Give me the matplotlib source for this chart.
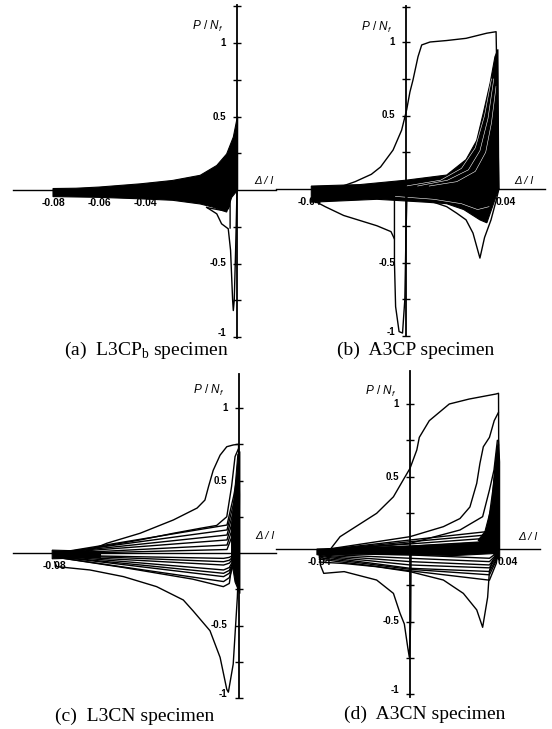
import matplotlib
matplotlib.use('Agg')
import matplotlib.pyplot as plt

W, H = 552, 729

plt.rcParams['mathtext.fontset'] = 'custom'
plt.rcParams['mathtext.it'] = 'Liberation Sans:italic'
plt.rcParams['mathtext.rm'] = 'Liberation Sans'

# ---------------- data (strain D/l, load P/Ny) ----------------
y_ticks = [-1, -0.75, -0.5, -0.25, 0.25, 0.5, 0.75, 1]
y_label_vals = [-1, -0.5, 0.5, 1]
y_label_text = ['-1', '-0.5', '0.5', '1']

# (a) L3CPb
a_band_x = [-0.080, -0.070, -0.060, -0.042, -0.028, -0.016, -0.0088, -0.0045, -0.0016, -0.0002, 0.0003,
            0.0003, -0.0023, -0.0045, -0.0104, -0.016, -0.028, -0.042, -0.060, -0.079, -0.080]
a_band_y = [0.01, 0.012, 0.02, 0.042, 0.065, 0.10, 0.167, 0.245, 0.36, 0.47, 0.50,
            0.0, -0.05, -0.15, -0.117, -0.095, -0.07, -0.06, -0.05, -0.045, -0.045]
a_loop1_x = [-0.0133, -0.0088, -0.0067, -0.0038, -0.0028, -0.0019, -0.0016, -0.0012, -0.0006, -0.0001, 0.0]
a_loop1_y = [-0.117, -0.162, -0.23, -0.264, -0.41, -0.75, -0.82, -0.75, -0.41, -0.07, 0.0]
a_loop2_x = [-0.013, -0.006, -0.0038, -0.003, -0.003]
a_loop2_y = [-0.12, -0.14, -0.128, -0.06, -0.26]
a_xtick_vals = [-0.08, -0.06, -0.04]
a_xtick_labels = ['-0.08', '-0.06', '-0.04']

# (b) A3CP
b_outer_x = [-0.040, -0.031, -0.022, -0.015, -0.011, -0.0056, -0.0019, 0.0003, 0.0017, 0.003, 0.0052,
             0.0068, 0.0104, 0.0176, 0.026, 0.035, 0.039, 0.0402]
b_outer_y = [-0.01, 0.0, 0.05, 0.10, 0.15, 0.265, 0.40, 0.54, 0.66, 0.74, 0.90,
             0.98, 1.0, 1.01, 1.025, 1.06, 1.07, 0.0]
b_band_x = [-0.041, -0.020, 0.0, 0.0176, 0.026, 0.0306, 0.0335, 0.0364, 0.0385, 0.0398, 0.0402,
            0.039, 0.035, 0.032, 0.025, 0.0176, 0.009, -0.0126, -0.041]
b_band_y = [0.02, 0.03, 0.06, 0.095, 0.20, 0.33, 0.52, 0.72, 0.90, 0.95, 0.0,
            -0.05, -0.23, -0.21, -0.14, -0.10, -0.09, -0.07, -0.09]
b_streaks_x = [[0.0, 0.015, 0.024, 0.030, 0.034, 0.037],
               [0.005, 0.018, 0.027, 0.032, 0.0355, 0.038],
               [0.010, 0.022, 0.030, 0.0345, 0.037, 0.039],
               [-0.005, 0.012, 0.024, 0.031, 0.036]]
b_streaks_y = [[0.02, 0.06, 0.14, 0.28, 0.50, 0.75],
               [0.02, 0.06, 0.13, 0.26, 0.48, 0.75],
               [0.02, 0.05, 0.12, 0.25, 0.45, 0.70],
               [-0.05, -0.07, -0.10, -0.14, -0.12]]
b_lowright_x = [0.012, 0.0176, 0.022, 0.026, 0.029, 0.032, 0.034, 0.0368, 0.039, 0.0402]
b_lowright_y = [-0.09, -0.12, -0.165, -0.21, -0.30, -0.47, -0.33, -0.21, -0.08, 0.0]
b_lowleft_x = [-0.041, -0.035, -0.027, -0.0126, -0.0065, -0.0050]
b_lowleft_y = [-0.07, -0.12, -0.18, -0.25, -0.29, -0.34]
b_spike_x = [-0.0050, -0.0050, -0.0045, -0.0030, -0.0015, -0.0005, 0.0, 0.0005]
b_spike_y = [-0.05, -0.50, -0.80, -0.97, -0.98, -0.75, -0.30, 0.0]
b_xtick_vals = [-0.042, 0.039]
b_xtick_labels = ['-0.04', '0.04']

# (c) L3CN
c_outer_x = [-0.080, -0.0675, -0.0573, -0.0428, -0.0283, -0.018, -0.0146, -0.013, -0.011, -0.008,
             -0.0051, -0.0023, 0.0, 0.0004, 0.0002, -0.0005, -0.0023, -0.0044, -0.0051, -0.008,
             -0.0124, -0.0197, -0.024, -0.0356, -0.05, -0.0646, -0.079, -0.080]
c_outer_y = [-0.01, 0.0, 0.067, 0.136, 0.228, 0.31, 0.365, 0.46, 0.57, 0.675,
             0.733, 0.745, 0.75, 0.40, 0.0, -0.305, -0.766, -0.96, -0.94, -0.72,
             -0.536, -0.40, -0.324, -0.232, -0.163, -0.117, -0.094, -0.06]
c_second_x = [-0.076, -0.0573, -0.0428, -0.0283, -0.0167, -0.0095, -0.0051, -0.003, -0.0015, 0.0]
c_second_y = [0.0, 0.05, 0.09, 0.136, 0.17, 0.19, 0.25, 0.46, 0.665, 0.72]
c_secondlow_x = [-0.079, -0.05, -0.02, -0.0066, -0.004, -0.003, 0.0]
c_secondlow_y = [-0.03, -0.10, -0.18, -0.232, -0.21, -0.10, 0.0]
c_fan_up_x = [-0.079, -0.005, -0.002, 0.0]
c_fan_up = [[-0.005, 0.024, 0.15, 0.25],
            [-0.005, 0.055, 0.20, 0.30],
            [0.0, 0.09, 0.25, 0.36],
            [0.0, 0.124, 0.30, 0.42],
            [0.0, 0.159, 0.35, 0.50],
            [0.0, 0.193, 0.40, 0.58]]
c_fan_low_x = [-0.079, -0.0065, -0.004, -0.0005]
c_fan_low = [[-0.015, -0.037, -0.03, 0.0],
             [-0.015, -0.06, -0.05, 0.0],
             [-0.02, -0.083, -0.07, 0.0],
             [-0.02, -0.117, -0.10, 0.0],
             [-0.025, -0.14, -0.12, 0.0],
             [-0.025, -0.163, -0.14, 0.0],
             [-0.03, -0.197, -0.17, 0.0]]
c_dense_x = [-0.003, -0.0015, -0.0003, 0.0006, 0.0006, -0.0015, -0.003]
c_dense_y = [0.20, 0.45, 0.68, 0.70, -0.28, -0.20, -0.05]
c_knot_x = [-0.081, -0.070, -0.060, -0.060, -0.070, -0.081]
c_knot_y = [0.02, 0.015, 0.01, -0.03, -0.035, -0.04]
c_xtick_vals = [-0.08]
c_xtick_labels = ['-0.08']

# (d) A3CN
d_outer_x = [-0.040, -0.035, -0.0308, -0.025, -0.0147, -0.0073, -0.003, 0.0, 0.003, 0.0041, 0.0085,
             0.0173, 0.026, 0.0379, 0.039, 0.0392]
d_outer_y = [-0.02, 0.0, 0.085, 0.143, 0.246, 0.36, 0.476, 0.556, 0.683, 0.77, 0.885,
             1.0, 1.034, 1.069, 1.074, 0.0]
d_second_x = [-0.040, -0.0147, 0.0, 0.0147, 0.022, 0.0264, 0.0294, 0.0308, 0.0323, 0.035, 0.0371, 0.039]
d_second_y = [-0.01, 0.05, 0.085, 0.154, 0.21, 0.29, 0.453, 0.59, 0.705, 0.77, 0.885, 0.943]
d_third_x = [-0.040, 0.0, 0.022, 0.032, 0.035, 0.037, 0.0385]
d_third_y = [-0.01, 0.039, 0.131, 0.223, 0.407, 0.545, 0.75]
d_fan_up_x = [-0.040, 0.0, 0.034, 0.0375, 0.039]
d_fan_up = [[-0.01, 0.006, 0.028, 0.20, 0.35],
            [-0.01, 0.02, 0.051, 0.28, 0.45],
            [-0.01, 0.035, 0.074, 0.36, 0.55],
            [-0.01, 0.05, 0.097, 0.44, 0.65],
            [-0.01, 0.062, 0.12, 0.52, 0.72]]
d_fan_low_x = [-0.040, 0.0, 0.035, 0.038, 0.039]
d_fan_low = [[-0.03, -0.041, -0.064, -0.03, 0.0],
             [-0.035, -0.064, -0.087, -0.04, 0.0],
             [-0.04, -0.087, -0.11, -0.05, 0.0],
             [-0.045, -0.11, -0.13, -0.06, 0.0],
             [-0.05, -0.133, -0.155, -0.07, 0.0],
             [-0.06, -0.14, -0.178, -0.08, 0.0],
             [-0.07, -0.15, -0.215, -0.10, 0.0]]
d_lowleft_x = [-0.040, -0.0395, -0.038, -0.029, -0.0147, -0.0073, -0.0044, -0.0025, -0.001, -0.0003, 0.0003, 0.0005]
d_lowleft_y = [-0.02, -0.11, -0.168, -0.156, -0.214, -0.306, -0.443, -0.517, -0.678, -0.747, -0.50, 0.0]
d_lowright_x = [-0.040, -0.029, -0.0147, 0.0, 0.0147, 0.0235, 0.0294, 0.032, 0.0342, 0.035, 0.0364, 0.0386]
d_lowright_y = [-0.09, -0.10, -0.122, -0.156, -0.214, -0.306, -0.42, -0.54, -0.333, -0.15, -0.08, -0.035]
d_dense_x = [0.030, 0.033, 0.036, 0.037, 0.038, 0.0390, 0.0395, 0.0395, 0.036]
d_dense_y = [0.06, 0.12, 0.30, 0.50, 0.65, 0.75, 0.60, -0.08, -0.02]
d_band_x = [-0.041, -0.02, 0.0, 0.02, 0.035, 0.039, 0.039, 0.02, 0.0, -0.02, -0.041]
d_band_y = [0.0, 0.01, 0.02, 0.035, 0.05, 0.02, -0.03, -0.045, -0.04, -0.035, -0.04]
d_xtick_vals = [-0.040, 0.0388]
d_xtick_labels = ['-0.04', '0.04']

captions = [r'(a)  L3CP$_\mathregular{b}$ specimen', '(b)  A3CP specimen',
            '(c)  L3CN specimen', '(d)  A3CN specimen']

# ---------------- layout in pixels of the scan ----------------
# origin x, origin y, px per unit x, px per unit y, x-axis left/right, y-axis top/bottom
layout = [
    (237, 190, 2300, 147, 13, 276, 5, 338),
    (406, 189, 2310, 147, 276, 545, 6, 336),
    (238.5, 553, 2300, 145, 13, 276, 374, 698),
    (410, 549, 2270, 145, 276, 540, 371, 697),
]
caption_pos = [(146, 355), (416, 355), (135, 721), (425, 719)]
label_pny = [1.11, 1.10, 1.124, 1.09]
label_dl = [(0.0115, 0.03), (0.051, 0.02), (0.0115, 0.08), (0.052, 0.05)]
top_cap = [True, True, False, False]

fig = plt.figure(figsize=(W / 100, H / 100), dpi=100)
fig.patch.set_facecolor('white')

LW = 1.0
axes = []
for i, (x0, y0, sx, sy, xl, xr, yt, yb) in enumerate(layout):
    ax = fig.add_axes([xl / W, 1 - yb / H, (xr - xl) / W, (yb - yt) / H])
    ax.set_xlim((xl - x0) / sx, (xr - x0) / sx)
    ytop = (y0 - yt) / sy
    ax.set_ylim(min((y0 - yb) / sy, -1.0), ytop)
    ax.patch.set_visible(False)
    ax.spines['top'].set_visible(False)
    ax.spines['right'].set_visible(False)
    ax.spines['left'].set_position(('data', 0))
    ax.spines['bottom'].set_position(('data', 0))
    ax.spines['left'].set_linewidth(1.3)
    ax.spines['bottom'].set_linewidth(1.0)
    ticks = list(y_ticks)
    if top_cap[i]:
        ticks.append(ytop - 0.005)
    ax.set_yticks(ticks)
    ax.set_yticklabels([''] * len(ticks))
    ax.tick_params(axis='y', direction='inout', length=6, width=1.0)
    ax.set_xticks([])
    for v, s in zip(y_label_vals, y_label_text):
        dy = 3 if v == -1 else 0
        ax.annotate(s, xy=(0, v), xytext=(-8, dy), textcoords='offset points', ha='right', va='center',
                    fontsize=7, fontweight='bold', family='Liberation Sans')
    ax.annotate(r'$P\ /\ N_f$', xy=(0, label_pny[i]), xytext=(-10, 0), textcoords='offset points',
                ha='right', va='center', fontsize=8.5)
    ax.text(label_dl[i][0], label_dl[i][1], 'Δ / l', fontsize=8, style='italic',
            family='Liberation Sans', ha='center', va='bottom', clip_on=False)
    fig.text(caption_pos[i][0] / W, 1 - caption_pos[i][1] / H, captions[i], family='Liberation Serif',
             fontsize=14, ha='center', va='baseline')
    axes.append(ax)


def xlabels(ax, vals, labs):
    for v, s in zip(vals, labs):
        ha = 'left' if v > 0 else 'center'
        ax.annotate(s, xy=(v, 0), xytext=(0, -6), textcoords='offset points', ha=ha, va='top',
                    fontsize=7.5, fontweight='bold', family='Liberation Sans')


def line(ax, x, y, color='black', lw=LW):
    ax.plot(x, y, color=color, lw=lw, solid_joinstyle='round', solid_capstyle='round')


# (a)
ax = axes[0]
ax.fill(a_band_x, a_band_y, color='black', lw=0.8)
line(ax, a_loop1_x, a_loop1_y)
line(ax, a_loop2_x, a_loop2_y)
xlabels(ax, a_xtick_vals, a_xtick_labels)

# (b)
ax = axes[1]
ax.fill(b_band_x, b_band_y, color='black', lw=0.8)
for sx_, sy_ in zip(b_streaks_x, b_streaks_y):
    line(ax, sx_, sy_, color='white', lw=0.4)
line(ax, b_outer_x, b_outer_y)
line(ax, b_lowright_x, b_lowright_y)
line(ax, b_lowleft_x, b_lowleft_y)
line(ax, b_spike_x, b_spike_y)
xlabels(ax, b_xtick_vals, b_xtick_labels)

# (c)
ax = axes[2]
ax.fill(c_knot_x, c_knot_y, color='black', lw=0.8)
ax.fill(c_dense_x, c_dense_y, color='black', lw=0.8)
line(ax, c_outer_x, c_outer_y)
line(ax, c_second_x, c_second_y)
line(ax, c_secondlow_x, c_secondlow_y)
for yy in c_fan_up:
    line(ax, c_fan_up_x, yy)
for yy in c_fan_low:
    line(ax, c_fan_low_x, yy)
xlabels(ax, c_xtick_vals, c_xtick_labels)

# (d)
ax = axes[3]
ax.fill(d_band_x, d_band_y, color='black', lw=0.8)
ax.fill(d_dense_x, d_dense_y, color='black', lw=0.8)
line(ax, d_outer_x, d_outer_y)
line(ax, d_second_x, d_second_y)
line(ax, d_third_x, d_third_y)
for yy in d_fan_up:
    line(ax, d_fan_up_x, yy)
for yy in d_fan_low:
    line(ax, d_fan_low_x, yy)
line(ax, d_lowleft_x, d_lowleft_y)
line(ax, d_lowright_x, d_lowright_y)
xlabels(ax, d_xtick_vals, d_xtick_labels)

fig.savefig('out.png', dpi=100, facecolor='white')
